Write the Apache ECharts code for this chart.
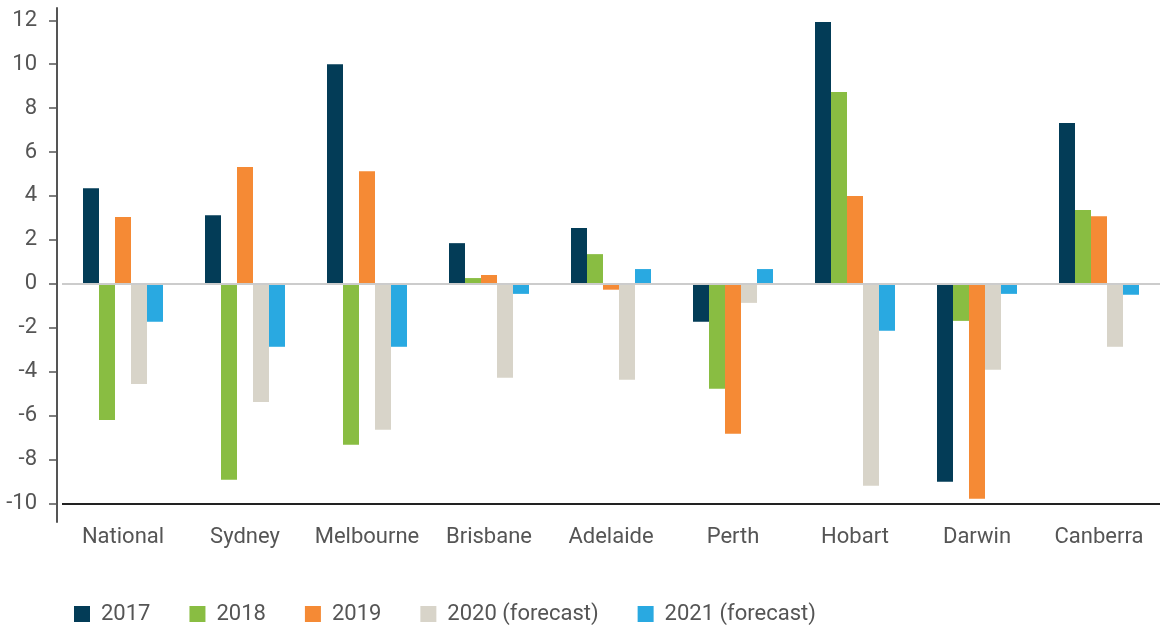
<!DOCTYPE html>
<html>
<head>
<meta charset="utf-8">
<script src="https://cdn.jsdelivr.net/npm/echarts@6/dist/echarts.min.js"></script>
<style>
html,body{margin:0;padding:0;background:#fff;}
#chart{width:1160px;height:628px;}
</style>
</head>
<body>
<div id="chart"></div>
<script>
const categories = ['National','Sydney','Melbourne','Brisbane','Adelaide','Perth','Hobart','Darwin','Canberra'];
const s2017 = [4.35, 3.12, 10.0, 1.85, 2.54, -1.73, 11.92, -9.02, 7.32];
const s2018 = [-6.2, -8.93, -7.33, 0.26, 1.35, -4.78, 8.73, -1.69, 3.36];
const s2019 = [3.04, 5.32, 5.13, 0.4, -0.27, -6.83, 4.0, -9.79, 3.08];
const s2020 = [-4.56, -5.38, -6.65, -4.28, -4.37, -0.87, -9.2, -3.92, -2.87];
const s2021 = [-1.73, -2.87, -2.87, -0.46, 0.67, 0.67, -2.14, -0.46, -0.5];
const seriesNames = ['2017','2018','2019','2020 (forecast)','2021 (forecast)'];
const yTicks = [-10,-8,-6,-4,-2,0,2,4,6,8,10,12];
const colors = ['#033c57','#89bd42','#f58a35','#d8d4c9','#29a9e1'];

const chart = echarts.init(document.getElementById('chart'), null, {renderer:'canvas'});
const allData = [s2017, s2018, s2019, s2020, s2021];
const series = allData.map((d, i) => {
  const s = {
    name: seriesNames[i],
    type: 'bar',
    data: d,
    barWidth: 16,
    barGap: '0%',
    itemStyle: {color: colors[i]},
    emphasis: {disabled: true}
  };
  if (i === 0) {
    s.markLine = {
      silent: true,
      symbol: 'none',
      label: {show: false},
      emphasis: {disabled: true},
      data: [
        {yAxis: 0, lineStyle: {color: '#cccccc', width: 2, type: 'solid'}},
        {yAxis: -10, lineStyle: {color: '#222222', width: 2, type: 'solid'}}
      ]
    };
  }
  return s;
});

chart.setOption({
  animation: false,
  color: colors,
  textStyle: {fontFamily: 'Roboto'},
  grid: {left: 62, right: -3, top: 8, bottom: 106, containLabel: false},
  legend: {
    left: 69, top: 598,
    icon: 'rect',
    itemWidth: 16, itemHeight: 16,
    itemGap: 39,
    textStyle: {color: '#555', fontSize: 22, fontFamily: 'Roboto', padding: [0, 0, 0, 6]},
    data: seriesNames
  },
  xAxis: {
    type: 'category',
    data: categories,
    axisLine: {show: false},
    axisTick: {show: false},
    axisLabel: {color: '#555', fontSize: 22, margin: 4, fontFamily: 'Roboto', interval: 0}
  },
  yAxis: {
    type: 'value',
    min: -10.85,
    max: 12.56,
    offset: 5,
    axisLine: {show: true, lineStyle: {color: '#555', width: 2}},
    axisTick: {show: true, length: 8, customValues: yTicks, lineStyle: {color: '#555', width: 1.5}},
    axisLabel: {color: '#555', fontSize: 22, margin: 20, fontFamily: 'Roboto', customValues: yTicks},
    splitLine: {show: false}
  },
  series: series
});
</script>
</body>
</html>
